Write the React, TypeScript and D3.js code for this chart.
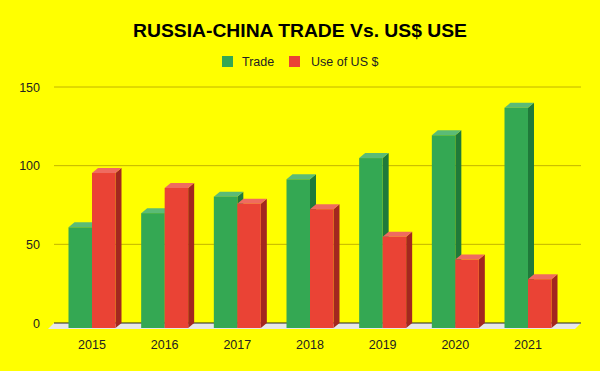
import React, { useEffect } from "react";
import * as d3 from "d3";

const years = ["2015", "2016", "2017", "2018", "2019", "2020", "2021"];
const seriesNames = ["Trade", "Use of US $"];
const trade = [64, 73, 83.5, 94.5, 108, 122.5, 140];
const usdUse = [98.5, 89, 79, 75.5, 58, 43.5, 31];
const yTicks = [0, 50, 100, 150];

const W = 600;
const H = 371;
const DX = 6;
const DY = 5;

const colors = [
  { front: "#34a853", side: "#1f7a3a", top: "#5bbb76" },
  { front: "#ea4335", side: "#a3271f", top: "#ef6b60" },
];

export default function App() {
  useEffect(() => {
    document.body.style.margin = "0";
  }, []);

  const y = d3.scaleLinear().domain([0, 150]).range([323, 87]);
  const x = d3.scalePoint().domain(years).range([92, 528]);
  const sub = d3.scaleBand().domain(seriesNames).range([-23.5, 23.5]);
  const gridX0 = 54;
  const gridX1 = 581;
  const values = [trade, usdUse];
  const font = "Liberation Sans, Arial, sans-serif";

  const bars: React.ReactNode[] = [];
  years.forEach((yr, i) => {
    seriesNames.forEach((s, si) => {
      const v = values[si][i];
      const x0 = (x(yr) as number) + (sub(s) as number);
      const w = sub.bandwidth();
      const yTop = y(v) + DY;
      const yBot = y(0) + DY;
      const c = colors[si];
      bars.push(
        <g key={yr + s}>
          <polygon
            points={`${x0 + w},${yTop} ${x0 + w + DX},${yTop - DY} ${x0 + w + DX},${yBot - DY} ${x0 + w},${yBot}`}
            fill={c.side}
          />
          <polygon
            points={`${x0},${yTop} ${x0 + DX},${yTop - DY} ${x0 + w + DX},${yTop - DY} ${x0 + w},${yTop}`}
            fill={c.top}
          />
          <rect x={x0} y={yTop} width={w} height={yBot - yTop} fill={c.front} />
        </g>
      );
    });
  });

  return (
    <svg
      width={W}
      height={H}
      style={{ position: "absolute", left: 0, top: 0, display: "block" }}
    >
      <rect x={0} y={0} width={W} height={H} fill="#ffff00" />
      <text
        x={300}
        y={37}
        textAnchor="middle"
        fontFamily={font}
        fontWeight="bold"
        fontSize={18.5}
        textLength={334}
        lengthAdjust="spacingAndGlyphs"
        fill="#000"
      >
        RUSSIA-CHINA TRADE Vs. US$ USE
      </text>
      {/* legend */}
      <rect x={222} y={56} width={11} height={11} fill={colors[0].front} />
      <text x={242} y={66} fontFamily={font} fontSize={12.5} fill="#222">
        {seriesNames[0]}
      </text>
      <rect x={289} y={56} width={11} height={11} fill={colors[1].front} />
      <text x={311} y={66} fontFamily={font} fontSize={12.5} fill="#222">
        {seriesNames[1]}
      </text>
      {/* floor */}
      <polygon
        points={`${gridX0},${y(0)} ${gridX1},${y(0)} ${gridX1 - DX},${y(0) + DY + 1} ${gridX0 - DX},${y(0) + DY + 1}`}
        fill="#e8e8e8"
      />
      {/* gridlines */}
      {yTicks.map((t) => (
        <g key={t}>
          <line
            x1={gridX0}
            x2={gridX1}
            y1={y(t)}
            y2={y(t)}
            stroke={t === 0 ? "#222" : "#c2b400"}
            strokeWidth={1}
          />
          <text
            x={40}
            y={y(t) + 4.5}
            textAnchor="end"
            fontFamily={font}
            fontSize={12.5}
            fill="#222"
          >
            {t}
          </text>
        </g>
      ))}
      {bars}
      {years.map((yr) => (
        <text
          key={yr}
          x={x(yr) as number}
          y={349}
          textAnchor="middle"
          fontFamily={font}
          fontSize={12.5}
          fill="#222"
        >
          {yr}
        </text>
      ))}
    </svg>
  );
}
